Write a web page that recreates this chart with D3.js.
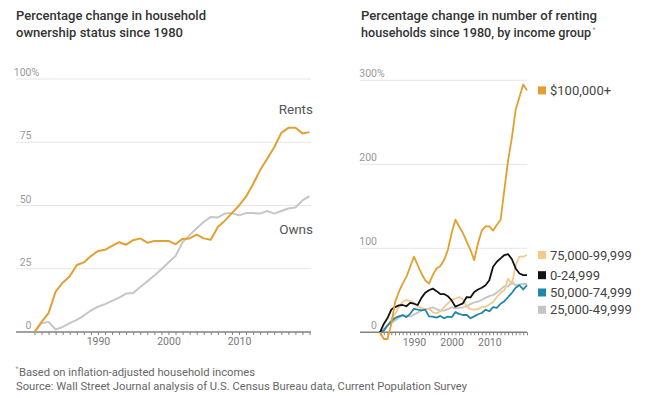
<!DOCTYPE html>
<html>
<head>
<meta charset="utf-8">
<script src="https://cdn.jsdelivr.net/npm/d3@7.9.0/dist/d3.min.js"></script>
<style>
  body { margin: 0; background: #fff; }
  svg { display: block; font-family: Roboto, "Noto Sans", sans-serif; }
</style>
</head>
<body>
<svg id="chart" width="671" height="398"></svg>
<script>
// ------------------------------------------------------------
// Data
// ------------------------------------------------------------
const years = [1981,1982,1983,1984,1985,1986,1987,1988,1989,1990,
               1991,1992,1993,1994,1995,1996,1997,1998,1999,2000,
               2001,2002,2003,2004,2005,2006,2007,2008,2009,2010,
               2011,2012,2013,2014,2015,2016,2017,2018,2019,2020];
const decadeTicks = [1990, 2000, 2010];

// left chart: ownership status
const rents = [0,4,7.5,16,19.5,22,26.5,27.5,30,32,
               32.5,34,35.5,34.5,36.3,37,35.3,36,36,36,
               34.7,36.8,37,38.5,37,36.5,41.5,44,47,50,
               53.5,58.5,64,68.5,73,78.7,80.7,80.7,78.5,79];
const owns = [0,3.5,4,1,2,3.5,4.8,6.5,8.5,10,
              11,12.3,13.6,15.2,15.4,17.8,20,22.3,24.8,27.5,
              30,35.5,38.3,41,43.5,45.5,45.3,46.8,47,46.1,
              47,47,46.8,47.8,46.8,47.8,48.8,49.2,52,53.7];
const leftTicks = [0, 25, 50, 75, 100];

// right chart: renting households by income group
const inc100 = [0,-8,-8,10,36,48,58,66,78,90,
                80,70,62,58,68,76,79,86,98,118,
                134,126,118,108,98,86,106,121,126,126,
                121,128,134,170,205,232,265,280,295,288];
const inc75 = [0,2,8,15,22,30,36,38.5,37,35,
               31,29,27,28,24,22.5,25,30,34.5,38.5,
               40,42,39,31,27.5,27,27.5,30,30.5,33,
               36,42,47,50,64,57,80,90,90,92];
const inc0 = [0,10,17,27,30,32,32.5,31,35,34,
              32.5,41,47,50,52,49,45.5,45.5,43,38,
              30.5,32.5,34.5,42,41.5,48,51,53,56,62,
              78,84,88,92,93,87,76,70,68,68];
const inc50 = [0,2,8,13,17,19,20.5,18,22,28,
               27,26,27,19,18.6,17.5,19.5,16.7,18.6,18,
               24,22,20.6,20.6,16.7,19,21.5,23,27,25,
               30,29,34,37,42,47,53,56,51,56];
const inc25 = [0,4,8.7,11,14,17.5,20,20,18.6,21,
               23.4,26,27.5,28.6,29.8,27.5,25.8,25.8,27.5,29.8,
               28.6,29,29.8,31.3,33.5,35.5,36.5,38.5,41,43,
               44.4,47.5,51,55,54.5,60,56,57,57.5,57.5];
const rightTicks = [0, 100, 200, 300];

const incomeSeries = [
  { name: "25,000-49,999", values: inc25,  color: "#c4c4c4" },
  { name: "75,000-99,999", values: inc75,  color: "#f3c98c" },
  { name: "50,000-74,999", values: inc50,  color: "#1f86a9" },
  { name: "0-24,999",      values: inc0,   color: "#111111" },
  { name: "$100,000+",     values: inc100, color: "#e29f2f" }
];
const legendOrder = ["75,000-99,999", "0-24,999", "50,000-74,999", "25,000-49,999"];

// ------------------------------------------------------------
// Setup
// ------------------------------------------------------------
const svg = d3.select("#chart");
const gridColor = "#e6e6e6";
const axisColor = "#808080";

function drawPanel(opts) {
  const g = svg.append("g");
  const x = d3.scaleLinear().domain([1981, 2020]).range(opts.xRange);
  const y = d3.scaleLinear().domain(opts.yDomain).range(opts.yRange);

  // gridlines (0 is the axis itself)
  g.selectAll(".grid")
    .data(opts.ticks.filter(d => d !== 0))
    .enter().append("line")
    .attr("x1", opts.gridX[0]).attr("x2", opts.gridX[1])
    .attr("y1", d => y(d)).attr("y2", d => y(d))
    .attr("stroke", gridColor).attr("stroke-width", 1);

  // y labels: numbers right aligned, % hanging on the top one
  const top = d3.max(opts.ticks);
  g.selectAll(".ylab")
    .data(opts.ticks)
    .enter().append("text")
    .attr("x", opts.labelX)
    .attr("y", d => y(d) - 3)
    .attr("text-anchor", "end")
    .attr("font-size", "10.5px")
    .attr("fill", "#999")
    .text(d => d);
  g.append("text")
    .attr("x", opts.labelX)
    .attr("y", y(top) - 3)
    .attr("font-size", "10.5px")
    .attr("fill", "#999")
    .text("%");

  // x axis: a tick every year, labels on decades
  const ax = g.append("g")
    .attr("transform", `translate(0,${y(0)})`)
    .call(d3.axisBottom(x)
      .tickValues(years)
      .tickSize(3)
      .tickFormat(d => decadeTicks.includes(d) ? d : ""));
  ax.select(".domain").remove();
  ax.selectAll(".tick line").attr("stroke", axisColor);
  ax.selectAll(".tick text")
    .attr("font-size", "10.5px")
    .attr("fill", "#777")
    .attr("font-family", "Roboto, sans-serif");
  g.append("line")
    .attr("x1", opts.gridX[0]).attr("x2", opts.gridX[1])
    .attr("y1", y(0)).attr("y2", y(0))
    .attr("stroke", axisColor).attr("stroke-width", 1.6);

  return { g, x, y };
}

// ------------------------------------------------------------
// LEFT: ownership status
// ------------------------------------------------------------
const left = drawPanel({
  xRange: [34.5, 309.5], yDomain: [0, 100], yRange: [332, 79],
  gridX: [16, 311], labelX: 31.5, ticks: leftTicks
});

const lineL = d3.line().x((d, i) => left.x(years[i])).y(d => left.y(d));
left.g.append("path").datum(owns)
  .attr("d", lineL).attr("fill", "none")
  .attr("stroke", "#c6c6c6").attr("stroke-width", 2).attr("stroke-linejoin", "round");
left.g.append("path").datum(rents)
  .attr("d", lineL).attr("fill", "none")
  .attr("stroke", "#e2a031").attr("stroke-width", 2).attr("stroke-linejoin", "round");

left.g.append("text")
  .attr("x", 313).attr("y", left.y(rents[rents.length - 1]) - 18)
  .attr("text-anchor", "end").attr("font-size", "13.5px").attr("fill", "#555")
  .text("Rents");
left.g.append("text")
  .attr("x", 313).attr("y", left.y(owns[owns.length - 1]) + 38)
  .attr("text-anchor", "end").attr("font-size", "13.5px").attr("fill", "#555")
  .text("Owns");

// ------------------------------------------------------------
// RIGHT: renting households by income group
// ------------------------------------------------------------
const right = drawPanel({
  xRange: [380, 527], yDomain: [0, 300], yRange: [332.3, 80.3],
  gridX: [360, 527], labelX: 377, ticks: rightTicks
});

const lineR = d3.line().x((d, i) => right.x(years[i])).y(d => right.y(d));
right.g.selectAll(".inc")
  .data(incomeSeries)
  .enter().append("path")
  .attr("d", d => lineR(d.values))
  .attr("fill", "none")
  .attr("stroke", d => d.color)
  .attr("stroke-width", 1.8)
  .attr("stroke-linejoin", "round");

// legend: $100,000+ at its line end, the rest pushed apart below
const byName = new Map(incomeSeries.map(s => [s.name, s]));
const lastY = s => right.y(s.values[s.values.length - 1]);
const legendItems = [{ s: byName.get("$100,000+"), cy: lastY(byName.get("$100,000+")) }];
let prev = -Infinity;
legendOrder.forEach(n => {
  const s = byName.get(n);
  const cy = Math.max(lastY(s), prev + 17.3);
  prev = cy;
  legendItems.push({ s, cy });
});

const leg = svg.append("g");
leg.selectAll("rect")
  .data(legendItems)
  .enter().append("rect")
  .attr("x", 538).attr("y", d => d.cy - 4)
  .attr("width", 8).attr("height", 8)
  .attr("fill", d => d.s.color);
leg.selectAll("text")
  .data(legendItems)
  .enter().append("text")
  .attr("x", 550).attr("y", d => d.cy + 4.6)
  .attr("font-size", "13px").attr("fill", "#444")
  .text(d => d.s.name);

// ------------------------------------------------------------
// Titles and notes
// ------------------------------------------------------------
function title(x, y, txt, len) {
  svg.append("text")
    .attr("x", x).attr("y", y)
    .attr("font-size", "12.5px").attr("font-weight", 500).attr("fill", "#333")
    .attr("textLength", len).attr("lengthAdjust", "spacingAndGlyphs")
    .text(txt);
}
title(16, 20, "Percentage change in household", 190);
title(16, 37, "ownership status since 1980", 167);
title(361, 20, "Percentage change in number of renting", 236);
title(361, 37, "households since 1980, by income group", 230);
svg.append("text")
  .attr("x", 592.5).attr("y", 32).attr("font-size", "7px").attr("fill", "#999")
  .text("*");

svg.append("text")
  .attr("x", 15.5).attr("y", 371).attr("font-size", "7px").attr("fill", "#999")
  .text("*");
svg.append("text")
  .attr("x", 19).attr("y", 376)
  .attr("font-size", "11.5px").attr("fill", "#666")
  .attr("textLength", 236).attr("lengthAdjust", "spacingAndGlyphs")
  .text("Based on inflation-adjusted household incomes");
svg.append("text")
  .attr("x", 16).attr("y", 390)
  .attr("font-size", "11.5px").attr("fill", "#666")
  .attr("textLength", 451).attr("lengthAdjust", "spacingAndGlyphs")
  .text("Source: Wall Street Journal analysis of U.S. Census Bureau data, Current Population Survey");
</script>
</body>
</html>
